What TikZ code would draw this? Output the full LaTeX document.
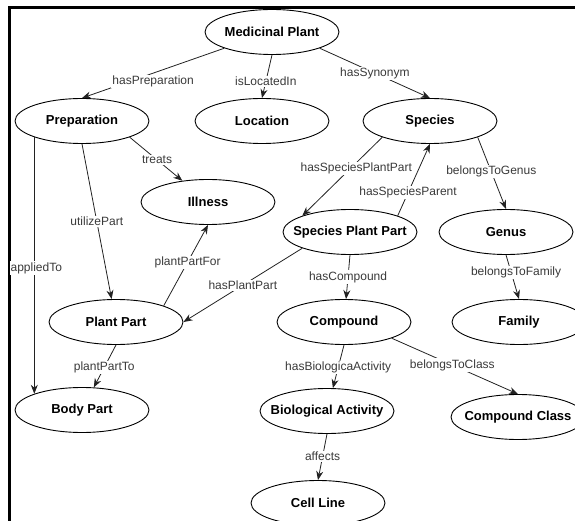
\documentclass[tikz,border=0pt]{standalone}
\usepackage{fontspec}
\setmainfont{Liberation Sans}
\usepackage{xcolor}
\usepackage{tikz}
\usetikzlibrary{shapes.geometric}
\usetikzlibrary{arrows.meta}

\definecolor{edgegray}{HTML}{222222}
\definecolor{labelgray}{HTML}{3A3A3A}

\tikzset{
  concept/.style={shape=ellipse,draw=black,line width=0.9pt,inner xsep=-15pt,inner ysep=0pt,
    minimum width=134pt,minimum height=45pt,font=\fontsize{13}{15}\selectfont\bfseries},
  rel/.style={-{Stealth[length=9pt,width=7pt]},line width=0.8pt,edgegray},
  lbl/.style={fill=white,inner sep=1pt,text=labelgray,font=\fontsize{12}{14}\selectfont}
}

\begin{document}
\begin{tikzpicture}[x=1pt,y=-1pt]

\useasboundingbox (0,0) rectangle (575,521);

% frame
\draw[line width=2.5pt] (9.5,522) |- (576,7.5);

% nodes

\node[concept] (mp) at (272,32) {Medicinal Plant};
\node[concept] (prep) at (82,121) {Preparation};
\node[concept] (loc) at (262,121) {Location};
\node[concept] (spec) at (430,121) {Species};
\node[concept] (ill) at (208,202) {Illness};
\node[concept] (spp) at (350,232) {Species Plant Part};
\node[concept] (gen) at (506,232) {Genus};
\node[concept] (pp) at (116,322) {Plant Part};
\node[concept] (comp) at (344,322) {Compound};
\node[concept] (fam) at (519,322) {Family};
\node[concept] (bp) at (82,410) {Body Part};
\node[concept] (ba) at (327,411) {Biological Activity};
\node[concept] (cc) at (518,417) {Compound Class};
\node[concept] (cl) at (318,503) {Cell Line};

%% relations
\path[rel] (mp.south west) edge node[lbl,pos=.5,yshift=-8pt] {hasPreparation} (prep.north);
\path[rel] (mp.south) edge node[lbl,pos=.62] {isLocatedIn} (loc.north);
\path[rel] (mp.south east) edge node[lbl,pos=.5] {hasSynonym} (spec.north);

\path[rel] (prep.south east) edge node[lbl,pos=.52] {treats} (ill);
\path[rel] (prep.south) edge node[lbl,pos=.5] {utilizePart} (pp);
\path[rel] (prep.south west) edge node[lbl,pos=.51,xshift=2pt] {appliedTo} (bp.north west);

\path[rel] (pp.north east) edge node[lbl,pos=.54] {plantPartFor} (ill.south);
\path[rel] (pp.south) edge node[lbl,pos=.53] {plantPartTo} (bp);

\path[rel] (spec.south west) edge node[lbl,pos=.4,xshift=6pt] {hasSpeciesPlantPart} (spp.north west);
\path[rel] (spp.north east) edge node[lbl,pos=.32] {hasSpeciesParent} (spec.south);
\path[rel] (spec.south east) edge node[lbl,pos=.48] {belongsToGenus} (gen.north);
\path[rel] (gen.south) edge node[lbl,pos=.39,xshift=5pt] {belongsToFamily} (fam.north);

\path[rel] (spp.south west) edge node[lbl,pos=.5] {hasPlantPart} (pp.east);
\path[rel] (spp.south) edge node[lbl,pos=.5] {hasCompound} (comp);

\path[rel] (comp.south) edge node[lbl,pos=.52] {hasBiologicaActivity} (ba);
\path[rel] (comp.south east) edge node[lbl,pos=.48] {belongsToClass} (cc.north);
\path[rel] (ba.south) edge node[lbl,pos=.49] {affects} (cl.north);

\end{tikzpicture}
\end{document}
